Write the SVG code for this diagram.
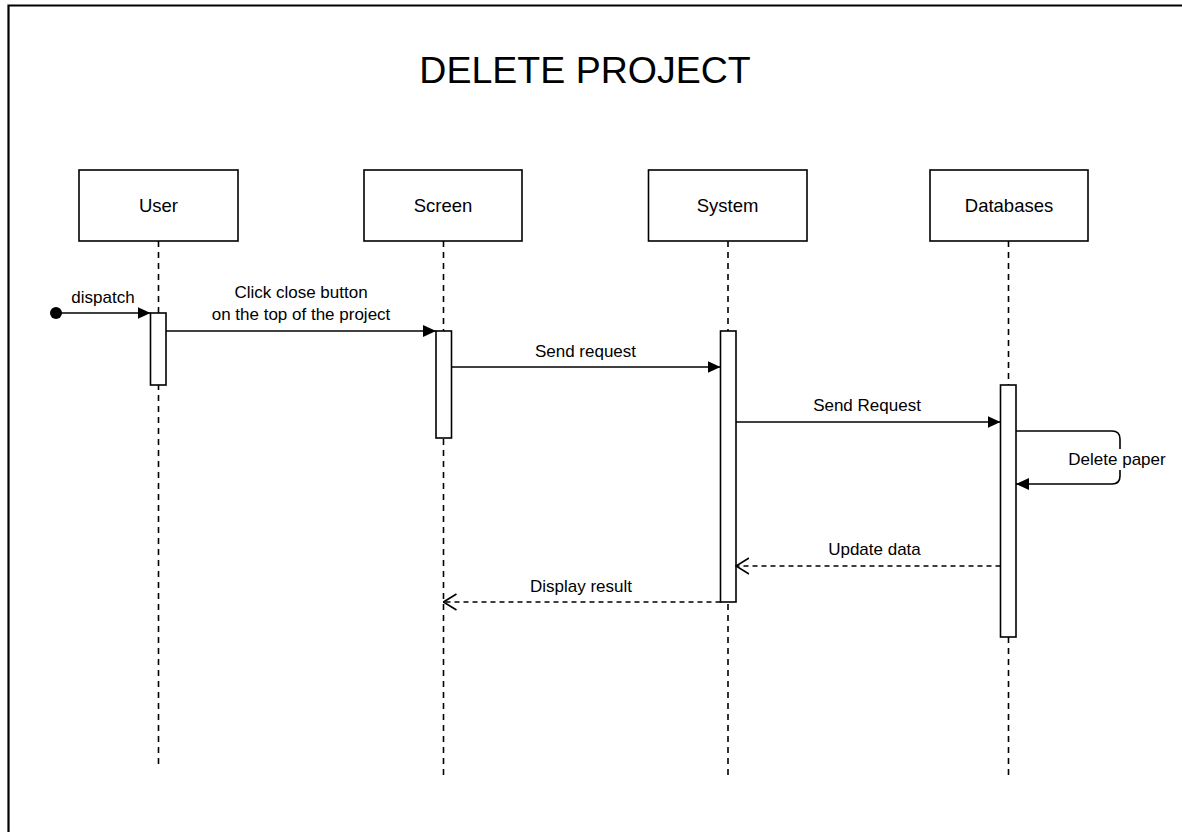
<svg xmlns="http://www.w3.org/2000/svg" width="1182" height="832" viewBox="0 0 1182 832">
  <style>
    .frame { fill: none; stroke: #000; stroke-width: 2.2; }
    .head { fill: #fff; stroke: #000; stroke-width: 1.6; }
    .act { fill: #fff; stroke: #000; stroke-width: 1.6; }
    .life { fill: none; stroke: #000; stroke-width: 1.6; stroke-dasharray: 6 5; }
    .msg { fill: none; stroke: #000; stroke-width: 1.6; }
    .ret { fill: none; stroke: #000; stroke-width: 1.6; stroke-dasharray: 5 4; }
    .title { font-family: "Liberation Sans", Arial, sans-serif; font-size: 37.5px; fill: #000; text-anchor: middle; }
    .name { font-family: "Liberation Sans", Arial, sans-serif; font-size: 18.5px; fill: #000; text-anchor: middle; }
    .lbl { font-family: "Liberation Sans", Arial, sans-serif; font-size: 17px; fill: #000; text-anchor: middle; }
  </style>
  <defs>
    <marker id="solid" viewBox="0 0 13 12" refX="13" refY="6" markerWidth="13" markerHeight="12" markerUnits="userSpaceOnUse" orient="auto">
      <path d="M0,0 L13,6 L0,12 Z" fill="#000"/>
    </marker>
    <marker id="open" viewBox="0 0 14 18" refX="13" refY="9" markerWidth="14" markerHeight="18" markerUnits="userSpaceOnUse" orient="auto">
      <path d="M0,1 L13,9 L0,17" fill="none" stroke="#000" stroke-width="1.6"/>
    </marker>
  </defs>

  <rect width="1182" height="832" fill="#fff"/>

  <!-- outer frame running off the right and bottom edges -->
  <path class="frame" d="M8.5,832 V5.5 H1182"/>

  <text class="title" x="585" y="83">DELETE PROJECT</text>

  <!-- participants with their lifelines and activation bars -->
  <g id="user">
    <line class="life" x1="158.5" y1="241" x2="158.5" y2="764"/>
    <rect class="head" x="79" y="170" width="159" height="71"/>
    <text class="name" x="158.5" y="212">User</text>
    <rect class="act" x="150.5" y="313" width="15.5" height="72"/>
  </g>

  <g id="screen">
    <line class="life" x1="443.5" y1="241" x2="443.5" y2="777"/>
    <rect class="head" x="364" y="170" width="158" height="71"/>
    <text class="name" x="443" y="212">Screen</text>
    <rect class="act" x="436" y="331" width="15.5" height="107"/>
  </g>

  <g id="system">
    <line class="life" x1="728" y1="241" x2="728" y2="777"/>
    <rect class="head" x="648.5" y="170" width="158.5" height="71"/>
    <text class="name" x="727.5" y="212">System</text>
    <rect class="act" x="720.5" y="331" width="15.5" height="271"/>
  </g>

  <g id="databases">
    <line class="life" x1="1008.5" y1="241" x2="1008.5" y2="777"/>
    <rect class="head" x="930" y="170" width="158" height="71"/>
    <text class="name" x="1009" y="212">Databases</text>
    <rect class="act" x="1000.5" y="385" width="15.5" height="252"/>
  </g>

  <!-- messages -->
  <g id="connectors">
    <circle cx="56" cy="313" r="6" fill="#000"/>
    <line class="msg" x1="56" y1="313" x2="150.5" y2="313" marker-end="url(#solid)"/>
    <text class="lbl" x="103" y="303">dispatch</text>

    <line class="msg" x1="166" y1="331" x2="436" y2="331" marker-end="url(#solid)"/>
    <text class="lbl" x="301" y="298">Click close button</text>
    <text class="lbl" x="301" y="320">on the top of the project</text>

    <line class="msg" x1="451.5" y1="367" x2="720.5" y2="367" marker-end="url(#solid)"/>
    <text class="lbl" x="585.5" y="357">Send request</text>

    <line class="msg" x1="736" y1="422" x2="1000.5" y2="422" marker-end="url(#solid)"/>
    <text class="lbl" x="867" y="411">Send Request</text>

    <path class="msg" d="M1016,431 H1112 Q1120,431 1120,439 V476 Q1120,484 1112,484 H1016" marker-end="url(#solid)"/>
    <rect x="1067" y="449" width="100" height="21" fill="#fff"/>
    <text class="lbl" x="1117" y="465">Delete paper</text>

    <line class="ret" x1="1000.5" y1="566" x2="736" y2="566" marker-end="url(#open)"/>
    <text class="lbl" x="874.5" y="555">Update data</text>

    <line class="ret" x1="720.5" y1="602" x2="443.5" y2="602" marker-end="url(#open)"/>
    <text class="lbl" x="581" y="592">Display result</text>
  </g>
</svg>
